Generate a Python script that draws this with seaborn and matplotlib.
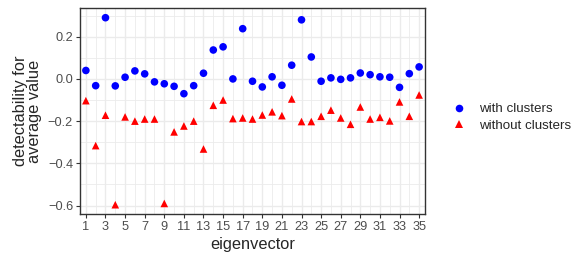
import matplotlib
matplotlib.use("Agg")
import matplotlib.pyplot as plt
import seaborn as sns
import pandas as pd
import numpy as np

# valores
eigenvectors = list(range(1, 36))
with_clusters = [0.040, -0.032, 0.290, -0.033, 0.008, 0.038, 0.024, -0.014, -0.023, -0.035,
                 -0.070, -0.032, 0.027, 0.137, 0.152, 0.000, 0.238, -0.011, -0.038, 0.010,
                 -0.030, 0.065, 0.280, 0.104, -0.011, 0.005, -0.002, 0.005, 0.028, 0.020,
                 0.010, 0.008, -0.040, 0.025, 0.057]
without_clusters = [-0.103, -0.316, -0.172, -0.596, -0.180, -0.200, -0.190, -0.190, -0.590, -0.251,
                    -0.223, -0.200, -0.332, -0.125, -0.100, -0.188, -0.185, -0.190, -0.171, -0.156,
                    -0.174, -0.095, -0.202, -0.202, -0.177, -0.148, -0.185, -0.215, -0.133, -0.190,
                    -0.182, -0.199, -0.109, -0.177, -0.076]
series_names = ["with clusters", "without clusters"]

df = pd.DataFrame({
    "eigenvector": eigenvectors * 2,
    "value": with_clusters + without_clusters,
    "group": [series_names[0]] * 35 + [series_names[1]] * 35,
})

sns.set_style("white")
plt.rcParams["font.family"] = ["Liberation Sans", "DejaVu Sans"]

fig = plt.figure(figsize=(5.81, 2.64), dpi=100)
ax = fig.add_axes([80 / 581, 1 - 214 / 264, 345 / 581, 206 / 264])

sns.scatterplot(data=df, x="eigenvector", y="value", hue="group", style="group",
                palette={series_names[0]: "#0000FF", series_names[1]: "#FF0000"},
                markers={series_names[0]: "o", series_names[1]: "^"},
                s=30, linewidth=0, ax=ax, zorder=3)

ax.set_xlim(0.4, 35.6)
ax.set_ylim(-0.64, 0.336)
ax.set_xticks(range(1, 36, 2))
ax.set_xticks(range(2, 36, 2), minor=True)
ax.set_yticks([-0.6, -0.4, -0.2, 0.0, 0.2])
ax.set_yticklabels(["\u22120.6", "\u22120.4", "\u22120.2", "0.0", "0.2"])
ax.set_yticks([-0.5, -0.3, -0.1, 0.1, 0.3], minor=True)

ax.grid(which="major", color="#EBEBEB", linewidth=1.0, zorder=0)
ax.grid(which="minor", color="#EBEBEB", linewidth=0.6, zorder=0)
ax.set_axisbelow(True)

for sp in ax.spines.values():
    sp.set_color("#333333")
    sp.set_linewidth(1.0)

ax.tick_params(axis="both", which="major", length=3, width=0.8, color="#333333",
               labelsize=9.2, labelcolor="#4D4D4D", pad=2, bottom=True, left=True)
ax.tick_params(axis="both", which="minor", length=0)

ax.set_xlabel("eigenvector", fontsize=11.8, labelpad=3)
ax.set_ylabel("detectability for\naverage value", fontsize=11.8, labelpad=4, linespacing=0.95)

leg = ax.legend(loc="center left", bbox_to_anchor=(1.025, 0.47), frameon=False,
                fontsize=9.6, handletextpad=0.5, markerscale=1.0, labelspacing=0.3)

fig.savefig("out.png", dpi=100)
